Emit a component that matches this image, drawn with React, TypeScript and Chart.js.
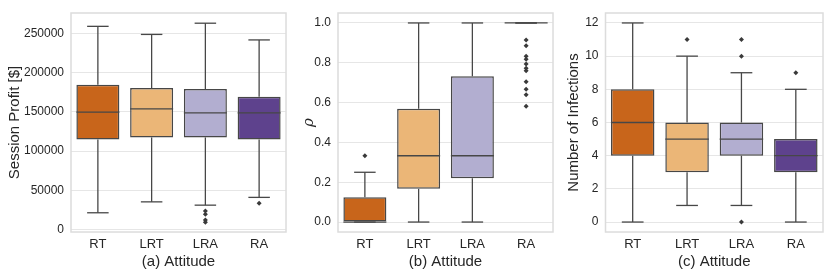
import React, { useEffect, useRef } from 'react';
import { Chart, registerables } from 'chart.js';

Chart.register(...registerables);

// ---------- data ----------
const categories = ['RT', 'LRT', 'LRA', 'RA'];
const boxColors = ['#c8651b', '#ebb677', '#b2aed0', '#5e428d'];

// (a) Session profit
const profitQ1 = [115000, 117500, 117500, 114700];
const profitMedian = [149600, 153800, 148800, 148800];
const profitQ3 = [184600, 180400, 179200, 169300];
const profitLow = [21500, 35400, 31200, 41100];
const profitHigh = [259000, 248700, 263000, 241700];
const profitOutliers = [[], [], [23800, 19700, 12300, 9500], [33700]];
const profitTicks = [0, 50000, 100000, 150000, 200000, 250000];
const profitTickLabels = ['0', '50000', '100000', '150000', '200000', '250000'];

// (b) rho
const rhoQ1 = [0, 0.1667, 0.22, 1];
const rhoMedian = [0, 0.333, 0.333, 1];
const rhoQ3 = [0.125, 0.569, 0.732, 1];
const rhoLow = [0, 0, 0, 1];
const rhoHigh = [0.25, 1, 1, 1];
const rhoOutliers = [
  [0.333],
  [],
  [],
  [0.915, 0.886, 0.833, 0.818, 0.794, 0.773, 0.76, 0.705, 0.667, 0.64, 0.581],
];
const rhoTicks = [0, 0.2, 0.4, 0.6, 0.8, 1.0];
const rhoTickLabels = ['0.0', '0.2', '0.4', '0.6', '0.8', '1.0'];

// (c) infections
const infQ1 = [4, 3, 4, 3];
const infMedian = [6, 5, 5, 4];
const infQ3 = [8, 6, 6, 5];
const infLow = [0, 1, 1, 0];
const infHigh = [12, 10, 9, 8];
const infOutliers = [[], [11], [11, 10, 0], [9]];
const infTicks = [0, 2, 4, 6, 8, 10, 12];
const infTickLabels = ['0', '2', '4', '6', '8', '10', '12'];

// ---------- style ----------
const LINE = '#474747';
const TEXT = '#262626';
const GRID = '#e6e6e6';
const FRAME = '#dcdcdc';
const FONT = "'Liberation Sans', Arial, sans-serif";

type PanelProps = {
  left: number;
  width: number;
  yAxisWidth: number;
  padRight: number;
  q1: number[];
  med: number[];
  q3: number[];
  lo: number[];
  hi: number[];
  outliers: number[][];
  yMin: number;
  yMax: number;
  ticks: number[];
  tickLabels: string[];
  yTitle: string;
  yTitleFont: any;
  yTitlePad: number;
  xTitle: string;
};

function BoxPanel(p: PanelProps) {
  const ref = useRef<HTMLCanvasElement | null>(null);

  useEffect(() => {
    if (!ref.current) return;

    const boxPlugin = {
      id: 'boxWhiskers',
      beforeDatasetsDraw(chart: any) {
        const { ctx, chartArea } = chart;
        ctx.save();
        ctx.strokeStyle = FRAME;
        ctx.lineWidth = 1.5;
        ctx.strokeRect(chartArea.left, chartArea.top, chartArea.right - chartArea.left, chartArea.bottom - chartArea.top);
        ctx.restore();
      },
      afterDatasetsDraw(chart: any) {
        const ctx = chart.ctx;
        const ys = chart.scales.y;
        const meta = chart.getDatasetMeta(0);
        const line = (x1: number, y1: number, x2: number, y2: number) => {
          ctx.beginPath();
          ctx.moveTo(x1, y1);
          ctx.lineTo(x2, y2);
          ctx.stroke();
        };
        ctx.save();
        ctx.strokeStyle = LINE;
        ctx.lineWidth = 1.3;
        meta.data.forEach((bar: any, i: number) => {
          const x = bar.x;
          const w = bar.width;
          const yq1 = ys.getPixelForValue(p.q1[i]);
          const yq3 = ys.getPixelForValue(p.q3[i]);
          const ylo = ys.getPixelForValue(p.lo[i]);
          const yhi = ys.getPixelForValue(p.hi[i]);
          const ymed = ys.getPixelForValue(p.med[i]);
          if (yhi !== yq3) line(x, yq3, x, yhi);
          if (ylo !== yq1) line(x, yq1, x, ylo);
          line(x - w / 4, yhi, x + w / 4, yhi);
          line(x - w / 4, ylo, x + w / 4, ylo);
          line(x - w / 2, ymed, x + w / 2, ymed);
        });
        ctx.restore();
      },
    };

    const outlierPoints: { x: string; y: number }[] = [];
    p.outliers.forEach((arr, i) => arr.forEach((v) => outlierPoints.push({ x: categories[i], y: v })));

    const chart = new Chart(ref.current, {
      type: 'bar',
      data: {
        labels: categories,
        datasets: [
          {
            type: 'bar',
            data: categories.map((_, i) => [p.q1[i], p.q3[i]]) as any,
            backgroundColor: boxColors,
            borderColor: LINE,
            borderWidth: 1.5,
            borderSkipped: false,
            barPercentage: 0.8,
            categoryPercentage: 1,
            order: 2,
          } as any,
          {
            type: 'scatter',
            data: outlierPoints as any,
            pointStyle: 'rectRot',
            radius: 2.5,
            backgroundColor: '#3a3a3a',
            borderColor: '#3a3a3a',
            borderWidth: 0,
            order: 1,
          } as any,
        ],
      },
      options: {
        responsive: false,
        animation: false,
        events: [],
        layout: { padding: { top: 6, right: p.padRight, left: 0, bottom: 0 } },
        plugins: { legend: { display: false }, tooltip: { enabled: false } },
        scales: {
          x: {
            type: 'category',
            offset: true,
            grid: { display: false, drawTicks: false },
            border: { display: false },
            ticks: { color: TEXT, font: { family: FONT, size: 13 }, padding: 5 },
            title: {
              display: true,
              text: p.xTitle,
              color: TEXT,
              font: { family: FONT, size: 15 },
              padding: { top: 0, bottom: 6 },
            },
            afterFit(scale: any) {
              scale.height = 45;
            },
          },
          y: {
            type: 'linear',
            min: p.yMin,
            max: p.yMax,
            grid: { color: GRID, lineWidth: 1, drawTicks: false },
            border: { display: false },
            afterBuildTicks(scale: any) {
              scale.ticks = p.ticks.map((v) => ({ value: v }));
            },
            ticks: {
              color: TEXT,
              font: { family: FONT, size: 12, lineHeight: 1 },
              padding: 7,
              callback: (_v: any, idx: number) => p.tickLabels[idx],
            },
            title: {
              display: true,
              text: p.yTitle,
              color: TEXT,
              font: p.yTitleFont,
              padding: { top: p.yTitlePad, bottom: 0 },
            },
            afterFit(scale: any) {
              scale.width = p.yAxisWidth;
            },
          },
        },
      },
      plugins: [boxPlugin],
    } as any);

    return () => chart.destroy();
  }, []);

  return (
    <div style={{ position: 'absolute', left: p.left, top: 0, width: p.width, height: 277 }}>
      <canvas ref={ref} width={p.width} height={277} style={{ display: 'block' }} />
    </div>
  );
}

export default function App() {
  const titleFont = { family: FONT, size: 15 };
  return (
    <div style={{ position: 'absolute', left: 0, top: 0, width: 830, height: 277, background: '#ffffff' }}>
      <BoxPanel
        left={0}
        width={290}
        yAxisWidth={71}
        padRight={2}
        q1={profitQ1}
        med={profitMedian}
        q3={profitQ3}
        lo={profitLow}
        hi={profitHigh}
        outliers={profitOutliers}
        yMin={-3000}
        yMax={276000}
        ticks={profitTicks}
        tickLabels={profitTickLabels}
        yTitle="Session Profit [$]"
        yTitleFont={titleFont}
        yTitlePad={6}
        xTitle="(a) Attitude"
      />
      <BoxPanel
        left={290}
        width={267}
        yAxisWidth={48}
        padRight={1.5}
        q1={rhoQ1}
        med={rhoMedian}
        q3={rhoQ3}
        lo={rhoLow}
        hi={rhoHigh}
        outliers={rhoOutliers}
        yMin={-0.05}
        yMax={1.05}
        ticks={rhoTicks}
        tickLabels={rhoTickLabels}
        yTitle="ρ"
        yTitleFont={{ family: "'DejaVu Serif', serif", size: 15, style: 'italic' }}
        yTitlePad={10}
        xTitle="(b) Attitude"
      />
      <BoxPanel
        left={557}
        width={273}
        yAxisWidth={48.5}
        padRight={7}
        q1={infQ1}
        med={infMedian}
        q3={infQ3}
        lo={infLow}
        hi={infHigh}
        outliers={infOutliers}
        yMin={-0.6}
        yMax={12.6}
        ticks={infTicks}
        tickLabels={infTickLabels}
        yTitle="Number of Infections"
        yTitleFont={titleFont}
        yTitlePad={8}
        xTitle="(c) Attitude"
      />
    </div>
  );
}
